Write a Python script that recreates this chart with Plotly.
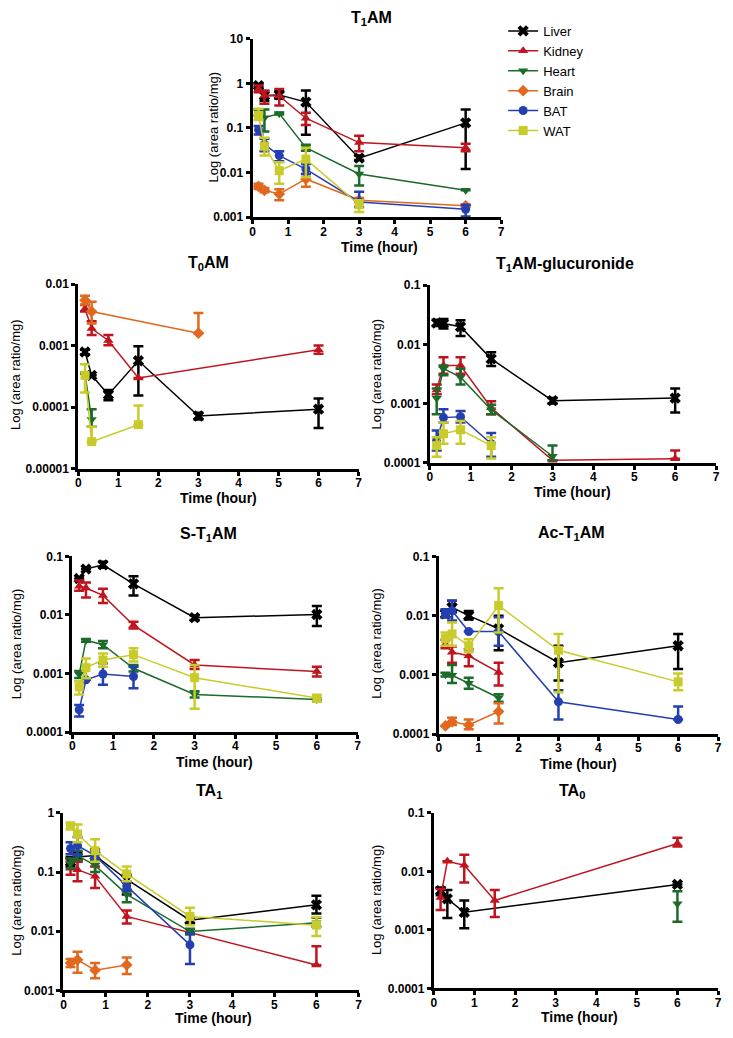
import plotly.graph_objects as go

TIMES = [0.167, 0.333, 0.75, 1.5, 3, 6]
TISSUES = ["Liver", "Kidney", "Heart", "Brain", "BAT", "WAT"]
COLORS = {"Liver": "#000000", "Kidney": "#C0141E", "Heart": "#1B6B2A",
          "Brain": "#E0691F", "BAT": "#2440B0", "WAT": "#C9CB2B"}
SYMBOLS = {"Liver": "x", "Kidney": "triangle-up", "Heart": "triangle-down",
           "Brain": "diamond", "BAT": "circle", "WAT": "square"}

N = None
# ---------------- T1AM ----------------
T1AM_MEAN = {
    "Liver":  [0.89, 0.53, 0.55, 0.38, 0.021, 0.13],
    "Kidney": [0.75, 0.53, 0.52, 0.165, 0.047, 0.036],
    "Heart":  [0.22, 0.17, 0.21, 0.036, 0.0093, 0.004],
    "Brain":  [0.0049, 0.004, 0.0033, 0.0072, 0.0024, 0.0018],
    "BAT":    [0.091, 0.043, 0.024, 0.012, 0.0022, 0.0015],
    "WAT":    [0.19, 0.039, 0.011, 0.02, 0.0019, N],
}
T1AM_HI = {
    "Liver":  [0.95, 0.68, 0.66, 0.69, 0.024, 0.26],
    "Kidney": [0.89, 0.66, 0.75, 0.22, 0.067, 0.044],
    "Heart":  [0.26, 0.26, 0.22, 0.042, 0.014, 0.004],
    "Brain":  [0.0056, 0.0045, 0.0042, 0.0093, 0.0027, 0.0019],
    "BAT":    [0.11, 0.057, 0.030, 0.0155, 0.0037, 0.0019],
    "WAT":    [0.27, 0.06, 0.017, 0.036, 0.0024, N],
}
T1AM_LO = {
    "Liver":  [0.83, 0.40, 0.45, 0.07, 0.019, 0.012],
    "Kidney": [0.63, 0.35, 0.32, 0.117, 0.030, 0.030],
    "Heart":  [0.19, 0.083, 0.20, 0.031, 0.0051, 0.004],
    "Brain":  [0.0043, 0.0036, 0.0024, 0.0048, 0.0022, 0.0017],
    "BAT":    [0.071, 0.030, 0.018, 0.0093, 0.0017, 0.00104],
    "WAT":    [0.15, 0.024, 0.0056, 0.0079, 0.0013, N],
}
# ---------------- T0AM ----------------
T0AM_MEAN = {
    "Liver":  [0.00079, 0.00033, 0.00016, 0.00057, 0.000072, 0.000093],
    "Kidney": [0.0040, 0.0019, 0.00122, 0.0003, N, 0.00086],
    "Heart":  [0.00035, 0.000063, N, N, N, N],
    "Brain":  [0.0055, 0.0036, N, N, 0.0016, N],
    "BAT":    [N, N, N, N, N, N],
    "WAT":    [0.00033, 0.0000275, N, 0.000052, N, N],
}
T0AM_HI = {
    "Liver":  [0.00086, 0.00033, 0.00019, 0.00098, 0.000081, 0.000138],
    "Kidney": [0.0046, 0.0025, 0.00149, 0.0003, N, 0.00101],
    "Heart":  [0.00035, 0.000093, N, N, N, N],
    "Brain":  [0.0065, 0.0052, N, N, 0.0034, N],
    "BAT":    [N, N, N, N, N, N],
    "WAT":    [0.0005, 0.000048, N, 0.000107, N, N],
}
T0AM_LO = {
    "Liver":  [0.00072, 0.00033, 0.00013, 0.000155, 0.000063, 0.000046],
    "Kidney": [0.0036, 0.0015, 0.00102, 0.0003, N, 0.00074],
    "Heart":  [0.00035, 0.000048, N, N, N, N],
    "Brain":  [0.0047, 0.0023, N, N, 0.0016, N],
    "BAT":    [N, N, N, N, N, N],
    "WAT":    [0.000174, 0.0000275, N, 0.000052, N, N],
}
# ---------------- T1AM-glucuronide ----------------
GLUC_MEAN = {
    "Liver":  [0.023, 0.0226, 0.0199, 0.0057, 0.00112, 0.00124],
    "Kidney": [0.0017, 0.0044, 0.0044, 0.00085, 0.00011, 0.000117],
    "Heart":  [0.00123, 0.0039, 0.0028, 0.00079, 0.000129, N],
    "Brain":  [N, N, N, N, N, N],
    "BAT":    [0.00024, 0.00058, 0.0006, 0.00021, N, N],
    "WAT":    [0.000195, 0.00031, 0.00036, 0.000195, N, N],
}
GLUC_HI = {
    "Liver":  [0.026, 0.027, 0.0256, 0.0074, 0.00124, 0.0018],
    "Kidney": [0.0021, 0.0061, 0.0061, 0.0011, 0.00011, 0.000162],
    "Heart":  [0.0018, 0.0044, 0.0039, 0.00096, 0.000195, N],
    "Brain":  [N, N, N, N, N, N],
    "BAT":    [0.00035, 0.0008, 0.00075, 0.00032, N, N],
    "WAT":    [0.00027, 0.00048, 0.00051, 0.00027, N, N],
}
GLUC_LO = {
    "Liver":  [0.0205, 0.0185, 0.0139, 0.0043, 0.001, 0.00071],
    "Kidney": [0.00144, 0.0032, 0.0032, 0.00066, 0.00011, 0.000117],
    "Heart":  [0.00066, 0.003, 0.0021, 0.00066, 0.00011, N],
    "Brain":  [N, N, N, N, N, N],
    "BAT":    [0.000162, 0.00048, 0.00048, 0.000126, N, N],
    "WAT":    [0.000126, 0.00021, 0.00021, 0.000118, N, N],
}
# ---------------- S-T1AM ----------------
ST1AM_MEAN = {
    "Liver":  [0.042, 0.061, 0.072, 0.034, 0.009, 0.0102],
    "Kidney": [0.031, 0.029, 0.0216, 0.0067, 0.0014, 0.00108],
    "Heart":  [0.00097, 0.0037, 0.0031, 0.00123, 0.00044, 0.00036],
    "Brain":  [N, N, N, N, N, N],
    "BAT":    [0.00024, 0.00078, 0.00098, 0.00089, N, N],
    "WAT":    [0.00059, 0.00126, 0.0017, 0.0021, 0.00085, 0.00038],
}
ST1AM_HI = {
    "Liver":  [0.042, 0.061, 0.081, 0.046, 0.0098, 0.0142],
    "Kidney": [0.039, 0.036, 0.028, 0.0077, 0.0017, 0.00131],
    "Heart":  [0.0011, 0.0039, 0.0036, 0.0014, 0.0005, 0.00036],
    "Brain":  [N, N, N, N, N, N],
    "BAT":    [0.00029, 0.00078, 0.0015, 0.0013, N, N],
    "WAT":    [0.00074, 0.0018, 0.0022, 0.0027, 0.0014, 0.00043],
}
ST1AM_LO = {
    "Liver":  [0.042, 0.061, 0.064, 0.0215, 0.0082, 0.0065],
    "Kidney": [0.026, 0.020, 0.016, 0.0059, 0.0012, 0.00089],
    "Heart":  [0.00084, 0.0035, 0.0027, 0.00108, 0.00039, 0.00036],
    "Brain":  [N, N, N, N, N, N],
    "BAT":    [0.000185, 0.00078, 0.00064, 0.00056, N, N],
    "WAT":    [0.00044, 0.00083, 0.0013, 0.0016, 0.00025, 0.00033],
}
# ---------------- Ac-T1AM ----------------
ACT1AM_MEAN = {
    "Liver":  [0.0107, 0.0138, 0.010, 0.006, 0.0016, 0.0031],
    "Kidney": [0.0033, 0.0024, 0.0021, 0.0011, N, N],
    "Heart":  [0.001, 0.00098, 0.00072, 0.00041, N, N],
    "Brain":  [0.000137, 0.000161, 0.000142, 0.00024, N, N],
    "BAT":    [0.011, 0.0121, 0.0054, 0.0054, 0.00035, 0.000176],
    "WAT":    [0.0041, 0.0049, 0.0031, 0.0148, 0.0026, 0.00076],
}
ACT1AM_HI = {
    "Liver":  [0.0122, 0.0179, 0.012, 0.010, 0.0031, 0.0049],
    "Kidney": [0.0039, 0.003, 0.0027, 0.0016, N, N],
    "Heart":  [0.00108, 0.00147, 0.00089, 0.00047, N, N],
    "Brain":  [0.000137, 0.000188, 0.000176, 0.00033, N, N],
    "BAT":    [0.0128, 0.0179, 0.0054, 0.0094, 0.00055, 0.000293],
    "WAT":    [0.0052, 0.0077, 0.004, 0.029, 0.0049, 0.00105],
}
ACT1AM_LO = {
    "Liver":  [0.0094, 0.0114, 0.0086, 0.0026, 0.0008, 0.00126],
    "Kidney": [0.0028, 0.0016, 0.0014, 0.00066, N, N],
    "Heart":  [0.00094, 0.00073, 0.00058, 0.00035, N, N],
    "Brain":  [0.000137, 0.000142, 0.00012, 0.00015, N, N],
    "BAT":    [0.0094, 0.0083, 0.0054, 0.0031, 0.000176, 0.000176],
    "WAT":    [0.0031, 0.0031, 0.0024, 0.0052, 0.00051, 0.00055],
}
# ---------------- TA1 ----------------
TA1_MEAN = {
    "Liver":  [0.15, 0.18, 0.19, 0.075, 0.0154, 0.028],
    "Kidney": [0.116, 0.11, 0.085, 0.0178, N, 0.0027],
    "Heart":  [0.14, 0.19, 0.13, 0.042, 0.0099, 0.0139],
    "Brain":  [0.0029, 0.0033, 0.0022, 0.0027, N, N],
    "BAT":    [0.25, 0.28, 0.19, 0.058, 0.0059, N],
    "WAT":    [0.6, 0.44, 0.23, 0.093, 0.0178, 0.0127],
}
TA1_HI = {
    "Liver":  [0.18, 0.22, 0.24, 0.09, 0.017, 0.040],
    "Kidney": [0.15, 0.15, 0.124, 0.0225, N, 0.0056],
    "Heart":  [0.17, 0.23, 0.17, 0.051, 0.011, 0.017],
    "Brain":  [0.0034, 0.0045, 0.0029, 0.0036, N, N],
    "BAT":    [0.32, 0.39, 0.23, 0.07, 0.0093, N],
    "WAT":    [0.68, 0.64, 0.36, 0.124, 0.025, 0.0175],
}
TA1_LO = {
    "Liver":  [0.124, 0.15, 0.15, 0.042, 0.0138, 0.020],
    "Kidney": [0.09, 0.07, 0.054, 0.0135, N, 0.0027],
    "Heart":  [0.115, 0.16, 0.10, 0.031, 0.0088, 0.012],
    "Brain":  [0.0025, 0.002, 0.0016, 0.0019, N, N],
    "BAT":    [0.2, 0.19, 0.16, 0.048, 0.0028, N],
    "WAT":    [0.53, 0.32, 0.15, 0.07, 0.0127, 0.0083],
}
# ---------------- TA0 ----------------
TA0_MEAN = {
    "Liver":  [0.0047, 0.0034, 0.0020, N, N, 0.006],
    "Kidney": [0.0036, 0.0149, 0.0128, 0.0032, N, 0.030],
    "Heart":  [N, N, N, N, N, 0.0028],
    "Brain":  [N, N, N, N, N, N],
    "BAT":    [N, N, N, N, N, N],
    "WAT":    [N, N, N, N, N, N],
}
TA0_HI = {
    "Liver":  [0.0053, 0.0048, 0.0032, N, N, 0.006],
    "Kidney": [0.005, 0.0149, 0.0193, 0.0048, N, 0.0376],
    "Heart":  [N, N, N, N, N, 0.0046],
    "Brain":  [N, N, N, N, N, N],
    "BAT":    [N, N, N, N, N, N],
    "WAT":    [N, N, N, N, N, N],
}
TA0_LO = {
    "Liver":  [0.0039, 0.0016, 0.00107, N, N, 0.006],
    "Kidney": [0.0022, 0.0149, 0.0065, 0.00167, N, 0.0266],
    "Heart":  [N, N, N, N, N, 0.00138],
    "Brain":  [N, N, N, N, N, N],
    "BAT":    [N, N, N, N, N, N],
    "WAT":    [N, N, N, N, N, N],
}

X_TICKS = [0, 1, 2, 3, 4, 5, 6, 7]
Y_TICK_VALS = [0.00001, 0.0001, 0.001, 0.01, 0.1, 1, 10]
Y_TICK_TEXT = ["0.00001", "0.0001", "0.001", "0.01", "0.1", "1", "10"]

# page is 733x1038 with an 8px body margin -> figure is 717x1022
OFF = 8
W, H = 733 - 2 * OFF, 1038 - 2 * OFF
FONT = "Liberation Sans, Arial, sans-serif"


def px(x):
    return (x - OFF) / W


def py(y):
    return 1 - (y - OFF) / H


# panel: title, data, page-pixel box (x0, x1, y0, y1), log10 y-range, title pos, x-title pos, y-title pos
PANELS = [
    ("T<sub>1</sub>AM", T1AM_MEAN, T1AM_HI, T1AM_LO, (252, 503, 32, 213), (-3, 1), (372, 12), (380, 243), (212, 122)),
    ("T<sub>0</sub>AM", T0AM_MEAN, T0AM_HI, T0AM_LO, (76, 359, 281, 468), (-5, -2), (207, 260), (218, 498), (12, 372)),
    ("T<sub>1</sub>AM-glucuronide", GLUC_MEAN, GLUC_HI, GLUC_LO, (431, 720, 282, 462), (-4, -1), (567, 261), (575, 492), (377, 372)),
    ("S-T<sub>1</sub>AM", ST1AM_MEAN, ST1AM_HI, ST1AM_LO, (70, 358, 557, 735), (-4, -1), (207, 535), (214, 765), (13, 645)),
    ("Ac-T<sub>1</sub>AM", ACT1AM_MEAN, ACT1AM_HI, ACT1AM_LO, (440, 722, 557, 737), (-4, -1), (574, 534), (581, 767), (377, 645)),
    ("TA<sub>1</sub>", TA1_MEAN, TA1_HI, TA1_LO, (61, 359, 817, 997), (-3, 0), (208, 795), (212, 1025), (14, 905)),
    ("TA<sub>0</sub>", TA0_MEAN, TA0_HI, TA0_LO, (435, 722, 817, 995), (-4, -1), (575, 795), (582, 1024), (377, 905)),
]

fig = go.Figure()
annotations = []
layout_axes = {}

for i, (title, mean, hi, lo, box, yr, tpos, xtpos, ytpos) in enumerate(PANELS):
    k = "" if i == 0 else str(i + 1)
    x0, x1, y0, y1 = box
    layout_axes["xaxis" + k] = dict(
        domain=[px(x0), px(x1)], anchor="y" + k, range=[0, 7],
        tickmode="array", tickvals=X_TICKS, ticktext=["<b>%d</b>" % t for t in X_TICKS],
        showline=True, linewidth=3, linecolor="black", mirror=False,
        ticks="outside", ticklen=4, tickwidth=2.5, tickcolor="black",
        ticklabelstandoff=-3,
        showgrid=False, zeroline=False,
        tickfont=dict(family=FONT, size=12, color="black"),
    )
    lo_e, hi_e = yr
    tv = [v for v in Y_TICK_VALS if 10 ** (lo_e - 0.01) <= v <= 10 ** (hi_e + 0.01)]
    tt = ["<b>" + Y_TICK_TEXT[Y_TICK_VALS.index(v)] + "</b>" for v in tv]
    layout_axes["yaxis" + k] = dict(
        domain=[py(y1), py(y0)], anchor="x" + k, type="log", range=[lo_e, hi_e],
        tickmode="array", tickvals=tv, ticktext=tt,
        showline=True, linewidth=3, linecolor="black",
        ticks="outside", ticklen=4, tickwidth=2.5, tickcolor="black",
        showgrid=False, zeroline=False,
        tickfont=dict(family=FONT, size=12, color="black"),
    )
    for tissue in TISSUES:
        xs, ys, ep, em = [], [], [], []
        for t, m, h, l in zip(TIMES, mean[tissue], hi[tissue], lo[tissue]):
            if m is None:
                continue
            xs.append(t)
            ys.append(m)
            ep.append(max((h if h is not None else m) - m, 0))
            em.append(max(m - (l if l is not None else m), 0))
        if not xs:
            continue
        c = COLORS[tissue]
        fig.add_trace(go.Scatter(
            x=xs, y=ys, mode="lines+markers", name=tissue,
            xaxis="x" + k, yaxis="y" + k,
            line=dict(color=c, width=1.5),
            marker=dict(symbol=SYMBOLS[tissue], color=c, size=9 if tissue != "Liver" else 10,
                        line=dict(width=0)),
            error_y=dict(type="data", symmetric=False, array=ep, arrayminus=em,
                         color=c, thickness=2.5, width=5),
            showlegend=(i == 0), legendgroup=tissue, cliponaxis=False,
        ))
    annotations.append(dict(text="<b>" + title + "</b>", x=px(tpos[0]), y=py(tpos[1]),
                            xref="paper", yref="paper", showarrow=False,
                            font=dict(family=FONT, size=16, color="black"),
                            xanchor="center", yanchor="middle"))
    annotations.append(dict(text="<b>Time (hour)</b>", x=px(xtpos[0]), y=py(xtpos[1]),
                            xref="paper", yref="paper", showarrow=False,
                            font=dict(family=FONT, size=14, color="black"),
                            xanchor="center", yanchor="middle"))
    annotations.append(dict(text="Log (area ratio/mg)", x=px(ytpos[0]), y=py(ytpos[1]),
                            xref="paper", yref="paper", showarrow=False, textangle=-90,
                            font=dict(family=FONT, size=13, color="black"),
                            xanchor="center", yanchor="middle"))

fig.update_layout(
    width=W, height=H, margin=dict(l=0, r=0, t=0, b=0),
    paper_bgcolor="white", plot_bgcolor="white",
    annotations=annotations,
    legend=dict(x=px(505), y=py(9), xanchor="left", yanchor="top",
                font=dict(family=FONT, size=13, color="black"),
                tracegroupgap=0, itemwidth=30, bgcolor="rgba(0,0,0,0)"),
    **layout_axes,
)

fig.write_html("out.html")
